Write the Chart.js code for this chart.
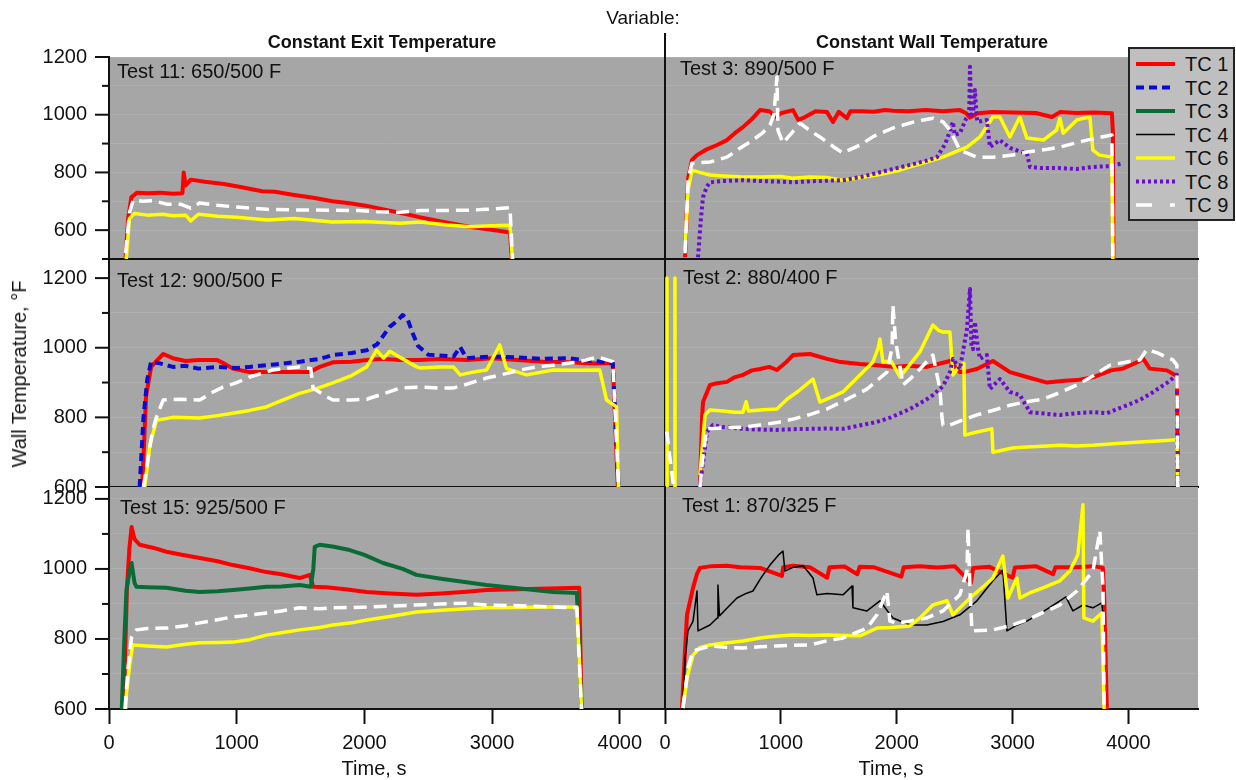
<!DOCTYPE html>
<html>
<head>
<meta charset="utf-8">
<script src="https://cdn.jsdelivr.net/npm/chart.js@4.4.1/dist/chart.umd.min.js"></script>
<style>
  body { margin: 0; width: 1236px; height: 780px; overflow: hidden; position: relative; background: #fff;
         font-family: "Liberation Sans", Arial, sans-serif; color: #111; }
  canvas { position: absolute; }
  .txt { position: absolute; white-space: nowrap; line-height: 1; z-index: 5; }
  .ctr { transform: translateX(-50%); }
  .bold { font-weight: bold; }
  #legend { position: absolute; left: 1128px; top: 47px; width: 103px; height: 170px; border: 2px solid #222;
            background: #bfbfbf; z-index: 6; }
  #legend svg { position: absolute; left: 0; top: 0; }
  #legend span { position: absolute; left: 55px; font-size: 20px; line-height: 1; }
</style>
</head>
<body>

<div class="txt ctr" style="left:643px;top:8px;font-size:19px">Variable:</div>
<div class="txt ctr bold" style="left:382px;top:33px;font-size:18px">Constant Exit Temperature</div>
<div class="txt ctr bold" style="left:932px;top:33px;font-size:18px">Constant Wall Temperature</div>
<div style="position:absolute;left:664px;top:33px;width:2px;height:25px;background:#111"></div>

<div class="txt" style="left:117px;top:61px;font-size:20px">Test 11: 650/500 F</div>
<div class="txt" style="left:117px;top:270px;font-size:20px">Test 12: 900/500 F</div>
<div class="txt" style="left:120px;top:497px;font-size:20px">Test 15: 925/500 F</div>
<div class="txt" style="left:680px;top:58px;font-size:20px">Test 3: 890/500 F</div>
<div class="txt" style="left:683px;top:267px;font-size:20px">Test 2: 880/400 F</div>
<div class="txt" style="left:682px;top:495px;font-size:20px">Test 1: 870/325 F</div>

<div class="txt" style="left:19px;top:374px;font-size:20px;transform:translate(-50%,-50%) rotate(-90deg)">Wall Temperature, °F</div>
<div class="txt ctr" style="left:374px;top:758px;font-size:20px">Time, s</div>
<div class="txt ctr" style="left:891px;top:758px;font-size:20px">Time, s</div>

<div id="legend"></div>

<script>
// tick values
const timeTicks = [0, 1000, 2000, 3000, 4000];
const tempTicks = [500, 600, 700, 800, 900, 1000, 1100, 1200];

// ---- Test 11 (constant exit temperature, row 1)
const t11_tc1_t = [130, 150, 175, 220, 300, 400, 500, 575, 585, 600, 640, 750, 900, 1050, 1200, 1300, 1450, 1600, 1750, 1900, 2020, 2150, 2280, 2430, 2600, 2820, 2950, 3050, 3140, 3155];
const t11_tc1   = [505, 640, 714, 730, 728, 730, 726, 728, 800, 755, 775, 768, 760, 748, 735, 733, 722, 712, 700, 692, 684, 672, 660, 645, 630, 612, 604, 598, 592, 500];
const t11_tc9_t = [130, 160, 190, 260, 350, 450, 560, 640, 710, 850, 1000, 1240, 1450, 1750, 1950, 2100, 2280, 2440, 2600, 2820, 2950, 3050, 3140, 3160];
const t11_tc9   = [520, 660, 705, 700, 702, 690, 690, 676, 694, 686, 680, 672, 670, 669, 668, 664, 662, 668, 668, 669, 672, 675, 678, 500];
const t11_tc6_t = [135, 160, 200, 300, 420, 500, 600, 640, 700, 850, 1000, 1240, 1450, 1750, 2000, 2280, 2440, 2650, 2820, 3000, 3140, 3160];
const t11_tc6   = [500, 640, 658, 652, 655, 650, 652, 632, 655, 648, 645, 635, 640, 628, 630, 624, 628, 618, 612, 615, 617, 500];

// ---- Test 12 (constant exit temperature, row 2)
const t12_tc1_t = [260, 290, 330, 380, 425, 500, 600, 700, 843, 900, 970, 1100, 1300, 1570, 1650, 1753, 1900, 2018, 2150, 2276, 2436, 2600, 2800, 3000, 3200, 3400, 3600, 3800, 3945, 3985];
const t12_tc1   = [600, 860, 945, 965, 982, 970, 962, 965, 965, 955, 940, 930, 930, 930, 945, 958, 960, 965, 968, 965, 965, 968, 965, 970, 965, 960, 958, 955, 956, 600];
const t12_tc2_t = [240, 270, 300, 330, 400, 500, 600, 700, 850, 1000, 1100, 1300, 1493, 1650, 1753, 1900, 2018, 2100, 2198, 2250, 2300, 2340, 2380, 2420, 2500, 2700, 2750, 2800, 3000, 3200, 3400, 3600, 3700, 3800, 3945, 3990];
const t12_tc2   = [600, 800, 910, 960, 955, 945, 948, 940, 945, 942, 945, 952, 960, 968, 979, 985, 993, 1010, 1060, 1075, 1094, 1080, 1040, 1005, 980, 975, 1002, 970, 975, 972, 968, 970, 965, 962, 955, 600];
const t12_tc9_t = [270, 340, 372, 425, 550, 711, 800, 893, 1000, 1102, 1282, 1493, 1580, 1598, 1700, 1753, 1900, 2018, 2150, 2276, 2433, 2600, 2694, 2800, 2957, 3100, 3217, 3350, 3478, 3650, 3830, 3945, 3990];
const t12_tc9   = [600, 760, 801, 850, 852, 850, 870, 887, 900, 916, 936, 945, 940, 884, 860, 850, 850, 852, 868, 884, 887, 884, 884, 895, 913, 925, 936, 945, 950, 958, 973, 960, 600];
const t12_tc6_t = [280, 320, 372, 500, 711, 850, 970, 1100, 1232, 1350, 1493, 1620, 1753, 1900, 2018, 2096, 2150, 2200, 2276, 2409, 2436, 2600, 2696, 2750, 2850, 2957, 3060, 3113, 3270, 3478, 3650, 3843, 3896, 3975, 3990];
const t12_tc6   = [600, 720, 792, 800, 798, 805, 812, 820, 830, 848, 869, 882, 899, 920, 945, 993, 970, 990, 973, 945, 942, 945, 945, 922, 930, 936, 1008, 940, 922, 936, 935, 936, 850, 830, 600];

// ---- Test 15 (constant exit temperature, row 3)
const t15_tc1_t = [115, 140, 160, 177, 200, 240, 350, 450, 580, 711, 850, 970, 1100, 1232, 1350, 1493, 1573, 1590, 1600, 1700, 1850, 2018, 2200, 2408, 2600, 2800, 2955, 3200, 3450, 3683, 3700];
const t15_tc1   = [600, 940, 1060, 1120, 1085, 1069, 1060, 1049, 1040, 1031, 1022, 1011, 1002, 991, 985, 974, 983, 960, 949, 948, 942, 934, 930, 926, 930, 935, 940, 942, 944, 946, 600];
const t15_tc3_t = [100, 120, 137, 160, 177, 200, 215, 300, 450, 600, 711, 850, 970, 1100, 1232, 1350, 1493, 1580, 1600, 1611, 1650, 1750, 1885, 2000, 2146, 2300, 2408, 2600, 2800, 2955, 3200, 3477, 3664, 3700];
const t15_tc3   = [600, 800, 940, 990, 1017, 960, 949, 948, 946, 938, 934, 936, 940, 944, 949, 950, 954, 949, 1000, 1063, 1069, 1064, 1054, 1040, 1017, 1000, 983, 972, 962, 954, 945, 934, 931, 600];
const t15_tc9_t = [125, 150, 177, 215, 300, 450, 600, 711, 850, 970, 1100, 1232, 1350, 1493, 1650, 1753, 1900, 2018, 2200, 2408, 2600, 2800, 2955, 3200, 3450, 3664, 3700];
const t15_tc9   = [600, 720, 806, 826, 830, 831, 838, 846, 855, 863, 868, 874, 880, 889, 886, 889, 890, 891, 894, 897, 900, 902, 897, 895, 892, 889, 600];
const t15_tc6_t = [130, 137, 160, 185, 300, 450, 600, 711, 850, 970, 1100, 1232, 1350, 1493, 1650, 1753, 1900, 2018, 2200, 2408, 2600, 2800, 2955, 3200, 3450, 3664, 3700];
const t15_tc6   = [600, 646, 720, 783, 780, 777, 785, 789, 790, 791, 798, 811, 818, 826, 833, 840, 846, 854, 864, 877, 882, 886, 889, 890, 891, 891, 600];

// ---- Test 3 (constant wall temperature, row 1)
const t3_tc1_t = [173, 200, 233, 276, 350, 450, 535, 600, 673, 750, 820, 900, 960, 1000, 1105, 1150, 1200, 1300, 1398, 1450, 1500, 1570, 1600, 1700, 1800, 1900, 1967, 2100, 2250, 2400, 2545, 2600, 2632, 2700, 2830, 3000, 3200, 3340, 3408, 3550, 3700, 3857, 3866, 3870];
const t3_tc1   = [506, 780, 843, 860, 878, 895, 912, 935, 957, 985, 1016, 1012, 992, 1005, 1016, 982, 990, 1012, 1009, 975, 1010, 988, 1012, 1012, 1010, 1016, 1014, 1012, 1016, 1012, 1016, 1005, 990, 1005, 1009, 1008, 1006, 992, 1009, 1006, 1008, 1005, 936, 500];
const t3_tc9_t = [173, 200, 233, 388, 535, 650, 759, 850, 906, 940, 966, 975, 1018, 1100, 1165, 1250, 1337, 1450, 1536, 1600, 1683, 1800, 1967, 2150, 2312, 2400, 2459, 2545, 2692, 2830, 3000, 3123, 3300, 3408, 3641, 3857, 3865];
const t3_tc9   = [520, 780, 832, 836, 853, 885, 912, 940, 964, 1000, 1131, 946, 902, 940, 971, 945, 923, 890, 867, 880, 895, 925, 954, 975, 988, 975, 947, 877, 853, 853, 860, 871, 880, 888, 912, 930, 500];
const t3_tc6_t = [173, 200, 233, 300, 388, 500, 650, 820, 1000, 1100, 1251, 1400, 1536, 1650, 1829, 2000, 2114, 2250, 2399, 2500, 2606, 2718, 2830, 2890, 2977, 3063, 3123, 3266, 3380, 3408, 3436, 3555, 3667, 3693, 3750, 3857, 3865];
const t3_tc6   = [530, 740, 808, 800, 791, 788, 785, 784, 786, 780, 784, 782, 773, 780, 791, 805, 819, 835, 853, 870, 888, 923, 992, 992, 923, 992, 919, 912, 947, 988, 936, 982, 992, 877, 860, 853, 500];
const t3_tc8_t = [285, 310, 328, 360, 388, 500, 673, 850, 1105, 1300, 1536, 1700, 1829, 1950, 2114, 2250, 2347, 2420, 2485, 2500, 2545, 2600, 2625, 2632, 2645, 2660, 2675, 2690, 2700, 2778, 2804, 2890, 2977, 3050, 3123, 3150, 3250, 3408, 3550, 3693, 3850, 3952];
const t3_tc8   = [506, 640, 714, 750, 766, 770, 773, 770, 766, 770, 773, 785, 798, 810, 826, 840, 853, 900, 975, 930, 936, 988, 1000, 1166, 1000, 1010, 1086, 990, 975, 982, 888, 912, 885, 875, 867, 819, 815, 815, 812, 819, 822, 832];

// ---- Test 2 (constant wall temperature, row 2)
const t2_tc1_t = [302, 320, 328, 388, 450, 535, 600, 673, 750, 820, 900, 966, 1050, 1105, 1251, 1398, 1500, 1683, 1829, 1967, 2100, 2260, 2459, 2545, 2606, 2692, 2830, 2977, 3123, 3296, 3450, 3555, 3693, 3850, 3952, 4098, 4124, 4184, 4331, 4383, 4418, 4426];
const t2_tc1   = [605, 800, 844, 893, 898, 902, 915, 922, 935, 939, 945, 936, 960, 979, 982, 968, 960, 953, 950, 945, 948, 945, 962, 930, 932, 939, 962, 930, 916, 900, 905, 907, 915, 935, 940, 962, 970, 940, 935, 925, 920, 600];
const t2_tc6_t = [16, 17, 18, 40, 85, 86, 87, 200, 302, 345, 388, 500, 600, 673, 700, 720, 850, 966, 1053, 1150, 1277, 1337, 1450, 1536, 1683, 1795, 1840, 1855, 1881, 1950, 2028, 2200, 2312, 2360, 2399, 2459, 2485, 2545, 2580, 2588, 2692, 2821, 2830, 3000, 3123, 3300, 3408, 3550, 3693, 3900, 4098, 4250, 4383, 4418, 4426];
const t2_tc6   = [560, 1200, 560, null, 560, 1200, 560, null, 634, 807, 821, 818, 815, 815, 845, 818, 822, 824, 852, 875, 910, 844, 860, 873, 922, 959, 1000, 1025, 959, 962, 916, 988, 1065, 1050, 1045, 1045, 922, 950, 955, 749, 758, 767, 700, 712, 715, 718, 720, 718, 720, 725, 729, 732, 735, 735, 600];
const t2_tc8_t = [302, 340, 362, 414, 500, 673, 800, 966, 1100, 1251, 1400, 1536, 1700, 1829, 1950, 2114, 2250, 2312, 2400, 2459, 2485, 2545, 2606, 2632, 2645, 2658, 2675, 2700, 2718, 2778, 2804, 2890, 2977, 3063, 3150, 3300, 3408, 3550, 3693, 3813, 3950, 4098, 4200, 4331, 4418, 4426];
const t2_tc8   = [605, 700, 758, 778, 772, 767, 765, 764, 766, 767, 768, 767, 778, 787, 800, 824, 850, 864, 890, 930, 968, 939, 1054, 1169, 1000, 996, 1074, 1000, 968, 979, 881, 910, 873, 864, 815, 810, 807, 812, 815, 812, 830, 850, 870, 899, 922, 600];
const t2_tc9_t = [15, 40, 60, 75, 80, 200, 302, 330, 362, 500, 673, 820, 966, 1105, 1250, 1398, 1570, 1743, 1915, 1960, 1967, 1990, 2054, 2130, 2200, 2312, 2373, 2390, 2399, 2459, 2550, 2692, 2850, 2977, 3120, 3262, 3400, 3555, 3700, 3840, 4000, 4098, 4158, 4250, 4383, 4418, 4426];
const t2_tc9   = [760, 690, 640, 600, 560, null, 600, 700, 767, 770, 772, 778, 785, 795, 808, 824, 852, 881, 930, 1000, 1122, 1020, 893, 915, 939, 979, 881, 801, 778, 778, 790, 807, 822, 835, 845, 852, 870, 893, 920, 950, 960, 965, 995, 985, 965, 950, 600];

// ---- Test 1 (constant wall temperature, row 3)
const t1_tc1_t = [147, 170, 190, 242, 275, 302, 400, 535, 650, 820, 1009, 1020, 1105, 1250, 1400, 1420, 1550, 1660, 1680, 1800, 2040, 2060, 2200, 2350, 2500, 2640, 2660, 2800, 3000, 3020, 3200, 3350, 3370, 3550, 3700, 3779, 3790, 3813];
const t1_tc1   = [603, 750, 869, 946, 985, 1003, 1008, 1009, 1005, 1003, 980, 1005, 1009, 1005, 975, 1005, 1007, 985, 1006, 1005, 978, 1005, 1008, 1004, 1008, 960, 1003, 1006, 975, 1004, 1008, 985, 1005, 1005, 1008, 1003, 927, 600];
const t1_tc4_t = [155, 175, 198, 242, 276, 285, 388, 450, 457, 470, 540, 621, 700, 759, 830, 906, 980, 1018, 1035, 1110, 1191, 1240, 1277, 1311, 1400, 1536, 1614, 1622, 1743, 1855, 1920, 1967, 2114, 2260, 2400, 2545, 2692, 2830, 2916, 2951, 3040, 3123, 3250, 3408, 3460, 3520, 3607, 3693, 3770, 3780, 3790];
const t1_tc4   = [631, 750, 823, 851, 937, 823, 840, 860, 954, 866, 890, 917, 930, 937, 975, 1011, 1040, 1051, 994, 1005, 1009, 990, 974, 926, 930, 926, 951, 889, 880, 909, 880, 860, 840, 840, 850, 869, 909, 966, 997, 823, 840, 851, 875, 909, 920, 880, 897, 889, 903, 866, 600];
const t1_tc6_t = [155, 190, 242, 300, 388, 500, 673, 820, 950, 1105, 1250, 1398, 1550, 1683, 1829, 1950, 2114, 2200, 2312, 2433, 2485, 2632, 2750, 2830, 2916, 2959, 3037, 3063, 3150, 3262, 3408, 3494, 3563, 3607, 3615, 3693, 3770, 3790];
const t1_tc6   = [603, 689, 754, 775, 783, 788, 794, 803, 808, 811, 810, 811, 810, 809, 831, 833, 837, 860, 897, 909, 869, 917, 950, 974, 1037, 917, 974, 917, 932, 946, 966, 994, 1040, 1183, 860, 851, 874, 600];
const t1_tc9_t = [155, 200, 242, 388, 530, 673, 820, 966, 1100, 1251, 1400, 1536, 1743, 1829, 1915, 1941, 2000, 2114, 2260, 2399, 2545, 2606, 2615, 2632, 2649, 2830, 2980, 3123, 3260, 3408, 3555, 3693, 3753, 3780, 3790];
const t1_tc9   = [603, 720, 766, 780, 776, 774, 778, 780, 782, 783, 795, 803, 831, 869, 937, 851, 845, 851, 860, 880, 926, 994, 1117, 946, 823, 826, 838, 854, 875, 897, 937, 994, 1109, 946, 600];

const legendNames = ['TC 1', 'TC 2', 'TC 3', 'TC 4', 'TC 6', 'TC 8', 'TC 9'];

const STYLE = {
  'TC 1': { color: '#ff0000', width: 4,   dash: [],      order: 6 },
  'TC 2': { color: '#0a0ad2', width: 4,   dash: [8, 5],  order: 5 },
  'TC 3': { color: '#0b6b36', width: 4,   dash: [],      order: 4 },
  'TC 4': { color: '#000000', width: 1.5, dash: [],      order: 3 },
  'TC 6': { color: '#ffff00', width: 3.5, dash: [],      order: 2 },
  'TC 8': { color: '#6a0dd0', width: 4,   dash: [3, 3],  order: 1 },
  'TC 9': { color: '#ffffff', width: 3.5, dash: [13, 7], order: 0 }
};

const FONT = '"Liberation Sans", Arial, sans-serif';
const PLOT_BG = '#a6a6a6';
const GRID = 'rgba(255,255,255,0.10)';

const COLS = [
  { left: 0,   width: 670, yw: 109, padR: 5,  xmax: 4354, yLabels: true },
  { left: 655, width: 581, yw: 10,  padR: 38, xmax: 4600, yLabels: false }
];
const ROWS = [
  { top: 0,   height: 262, padT: 57, xh: 3,  ymin: 500, ymax: 1200, xLabels: false },
  { top: 240, height: 270, padT: 20, xh: 23, ymin: 600, ymax: 1252, xLabels: false },
  { top: 467, height: 313, padT: 20, xh: 71, ymin: 600, ymax: 1234, xLabels: true }
];

const panels = [
  { col: 0, row: 0, series: [['TC 1', t11_tc1_t, t11_tc1], ['TC 6', t11_tc6_t, t11_tc6], ['TC 9', t11_tc9_t, t11_tc9]] },
  { col: 0, row: 1, series: [['TC 1', t12_tc1_t, t12_tc1], ['TC 2', t12_tc2_t, t12_tc2], ['TC 6', t12_tc6_t, t12_tc6], ['TC 9', t12_tc9_t, t12_tc9]] },
  { col: 0, row: 2, series: [['TC 1', t15_tc1_t, t15_tc1], ['TC 3', t15_tc3_t, t15_tc3], ['TC 6', t15_tc6_t, t15_tc6], ['TC 9', t15_tc9_t, t15_tc9]] },
  { col: 1, row: 0, series: [['TC 1', t3_tc1_t, t3_tc1], ['TC 6', t3_tc6_t, t3_tc6], ['TC 8', t3_tc8_t, t3_tc8], ['TC 9', t3_tc9_t, t3_tc9]] },
  { col: 1, row: 1, series: [['TC 1', t2_tc1_t, t2_tc1], ['TC 6', t2_tc6_t, t2_tc6], ['TC 8', t2_tc8_t, t2_tc8], ['TC 9', t2_tc9_t, t2_tc9]] },
  { col: 1, row: 2, series: [['TC 1', t1_tc1_t, t1_tc1], ['TC 4', t1_tc4_t, t1_tc4], ['TC 6', t1_tc6_t, t1_tc6], ['TC 9', t1_tc9_t, t1_tc9]] }
];

// grey plot background
const plotBg = {
  id: 'plotBg',
  beforeDraw(chart) {
    const a = chart.chartArea, ctx = chart.ctx;
    ctx.save();
    ctx.fillStyle = PLOT_BG;
    ctx.fillRect(a.left, a.top, a.right - a.left, a.bottom - a.top);
    ctx.restore();
  }
};

// major / minor tick marks on the y axis
const yTickMarks = {
  id: 'yTickMarks',
  afterDraw(chart, args, opts) {
    if (!opts.show) return;
    const s = chart.scales.y, ctx = chart.ctx;
    ctx.save();
    ctx.strokeStyle = '#111';
    ctx.lineWidth = 2;
    s.ticks.forEach(t => {
      const y = s.getPixelForValue(t.value);
      const len = t.value % 200 === 0 ? 14 : 7;
      ctx.beginPath();
      ctx.moveTo(s.right - len, y);
      ctx.lineTo(s.right, y);
      ctx.stroke();
    });
    ctx.restore();
  }
};

Chart.register(plotBg, yTickMarks);

function makeDatasets(series) {
  return series.map(([name, t, v]) => ({
    label: name,
    data: t.map((x, i) => ({ x: x, y: v[i] })),
    borderColor: STYLE[name].color,
    borderWidth: STYLE[name].width,
    borderDash: STYLE[name].dash,
    borderCapStyle: 'butt',
    borderJoinStyle: 'round',
    pointRadius: 0,
    tension: 0,
    fill: false,
    clip: 0,
    order: STYLE[name].order
  }));
}

panels.forEach(p => {
  const col = COLS[p.col], row = ROWS[p.row];
  const cv = document.createElement('canvas');
  cv.width = col.width;
  cv.height = row.height;
  cv.style.left = col.left + 'px';
  cv.style.top = row.top + 'px';
  document.body.appendChild(cv);

  new Chart(cv, {
    type: 'line',
    data: { datasets: makeDatasets(p.series) },
    options: {
      responsive: false,
      animation: false,
      events: [],
      layout: { padding: { top: row.padT, right: col.padR, left: 0, bottom: 0 } },
      plugins: {
        legend: { display: false },
        tooltip: { enabled: false },
        yTickMarks: { show: col.yLabels }
      },
      scales: {
        x: {
          type: 'linear', min: 0, max: col.xmax,
          ticks: { display: row.xLabels, autoSkip: false, padding: 7,
                   color: '#111', maxRotation: 0, font: { family: FONT, size: 20 },
                   callback: v => String(v) },
          grid: { display: row.xLabels, drawOnChartArea: false, drawTicks: true, tickLength: 15,
                  tickWidth: 2, tickColor: '#111' },
          border: { display: true, color: '#111', width: 2 },
          afterBuildTicks: s => { s.ticks = timeTicks.map(v => ({ value: v })); },
          afterFit: s => { s.height = row.xh; s.paddingLeft = 0; s.paddingRight = 0; }
        },
        y: {
          type: 'linear', min: row.ymin, max: row.ymax,
          ticks: { display: col.yLabels, autoSkip: false, padding: 22,
                   color: '#111', font: { family: FONT, size: 20 },
                   callback: v => (v % 200 === 0 ? String(v) : '') },
          grid: { color: GRID, lineWidth: 1, drawTicks: false },
          border: { display: true, color: '#111', width: 2 },
          afterBuildTicks: s => {
            s.ticks = tempTicks.filter(v => v >= row.ymin && v <= row.ymax).map(v => ({ value: v }));
          },
          afterFit: s => { s.width = col.yw; s.paddingTop = 0; s.paddingBottom = 0; }
        }
      }
    }
  });
});

// legend box
const lg = document.getElementById('legend');
const svgNS = 'http://www.w3.org/2000/svg';
const svg = document.createElementNS(svgNS, 'svg');
svg.setAttribute('width', '103');
svg.setAttribute('height', '170');
lg.appendChild(svg);
legendNames.forEach((name, i) => {
  const cy = 15 + i * 23.5;
  const st = STYLE[name];
  const ln = document.createElementNS(svgNS, 'line');
  ln.setAttribute('x1', '6');
  ln.setAttribute('x2', '45');
  ln.setAttribute('y1', cy);
  ln.setAttribute('y2', cy);
  ln.setAttribute('stroke', st.color);
  ln.setAttribute('stroke-width', st.width);
  if (st.dash.length) ln.setAttribute('stroke-dasharray', name === 'TC 9' ? '16 18' : st.dash.join(' '));
  svg.appendChild(ln);
  const sp = document.createElement('span');
  sp.textContent = name;
  sp.style.top = (cy - 10) + 'px';
  lg.appendChild(sp);
});
</script>
</body>
</html>
